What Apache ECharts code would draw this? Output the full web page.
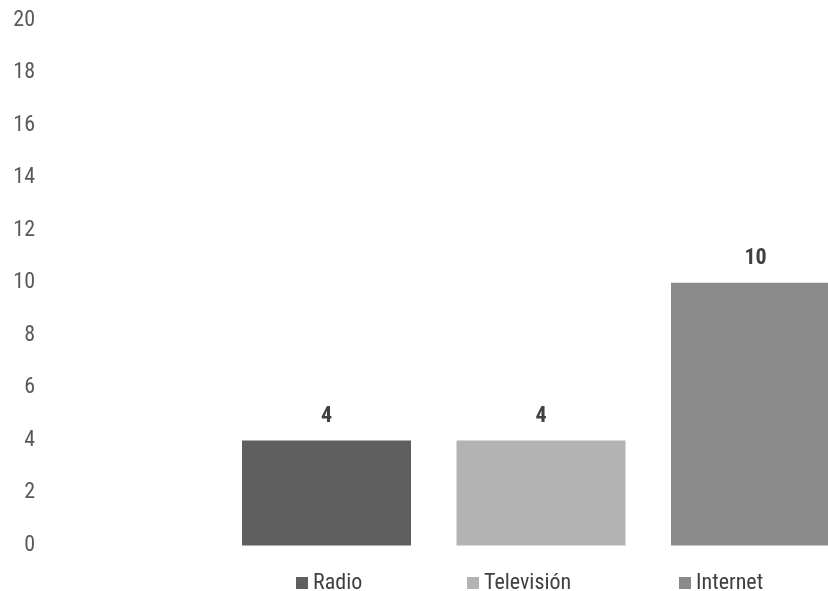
<!DOCTYPE html>
<html><head><meta charset="utf-8">
<script src="https://cdn.jsdelivr.net/npm/echarts@6/dist/echarts.min.js"></script>
<style>html,body{margin:0;padding:0;background:#fff}#c{width:828px;height:591px}</style>
</head><body><div id="c"></div>
<script>
const categories = ['Radio', 'Televisión', 'Internet'];
const values = [4, 4, 10];
const colors = ['#5f5f5f', '#b3b3b3', '#8a8a8a'];
const yTicks = [0, 2, 4, 6, 8, 10, 12, 14, 16, 18, 20];

const FONT = '"Roboto Condensed", "Liberation Sans Narrow", "Arial Narrow", sans-serif';
const chart = echarts.init(document.getElementById('c'));
const series = categories.map((name, i) => ({
  name: name,
  type: 'bar',
  barWidth: 169,
  barGap: '-100%',
  clip: false,
  data: categories.map((c, j) => j === i ? values[i] : '-'),
  itemStyle: { color: colors[i] },
  label: { show: true, position: 'top', distance: 13, fontFamily: FONT, fontSize: 22, fontWeight: 'bold', color: '#404040' }
}));
const legendLefts = [291, 462, 674];
chart.setOption({
  animation: false,
  grid: { left: 326.5, right: 72.5, top: 20, bottom: 45.5, containLabel: false },
  legend: categories.map((name, i) => ({
    data: [name], left: legendLefts[i], top: 567, itemWidth: 12, itemHeight: 12, itemGap: 0,
    icon: 'rect', textStyle: { fontFamily: FONT, fontSize: 22, color: '#404040' }
  })),
  xAxis: {
    type: 'category', data: categories, boundaryGap: false,
    axisLine: { show: false }, axisTick: { show: false }, axisLabel: { show: false }, splitLine: { show: false }
  },
  yAxis: {
    type: 'value', min: yTicks[0], max: yTicks[yTicks.length - 1], interval: 2,
    offset: 283.5,
    axisLine: { show: false }, axisTick: { show: false }, splitLine: { show: false },
    axisLabel: { margin: 8, fontFamily: FONT, fontSize: 22, color: '#595959' }
  },
  series: series
});
</script></body></html>
